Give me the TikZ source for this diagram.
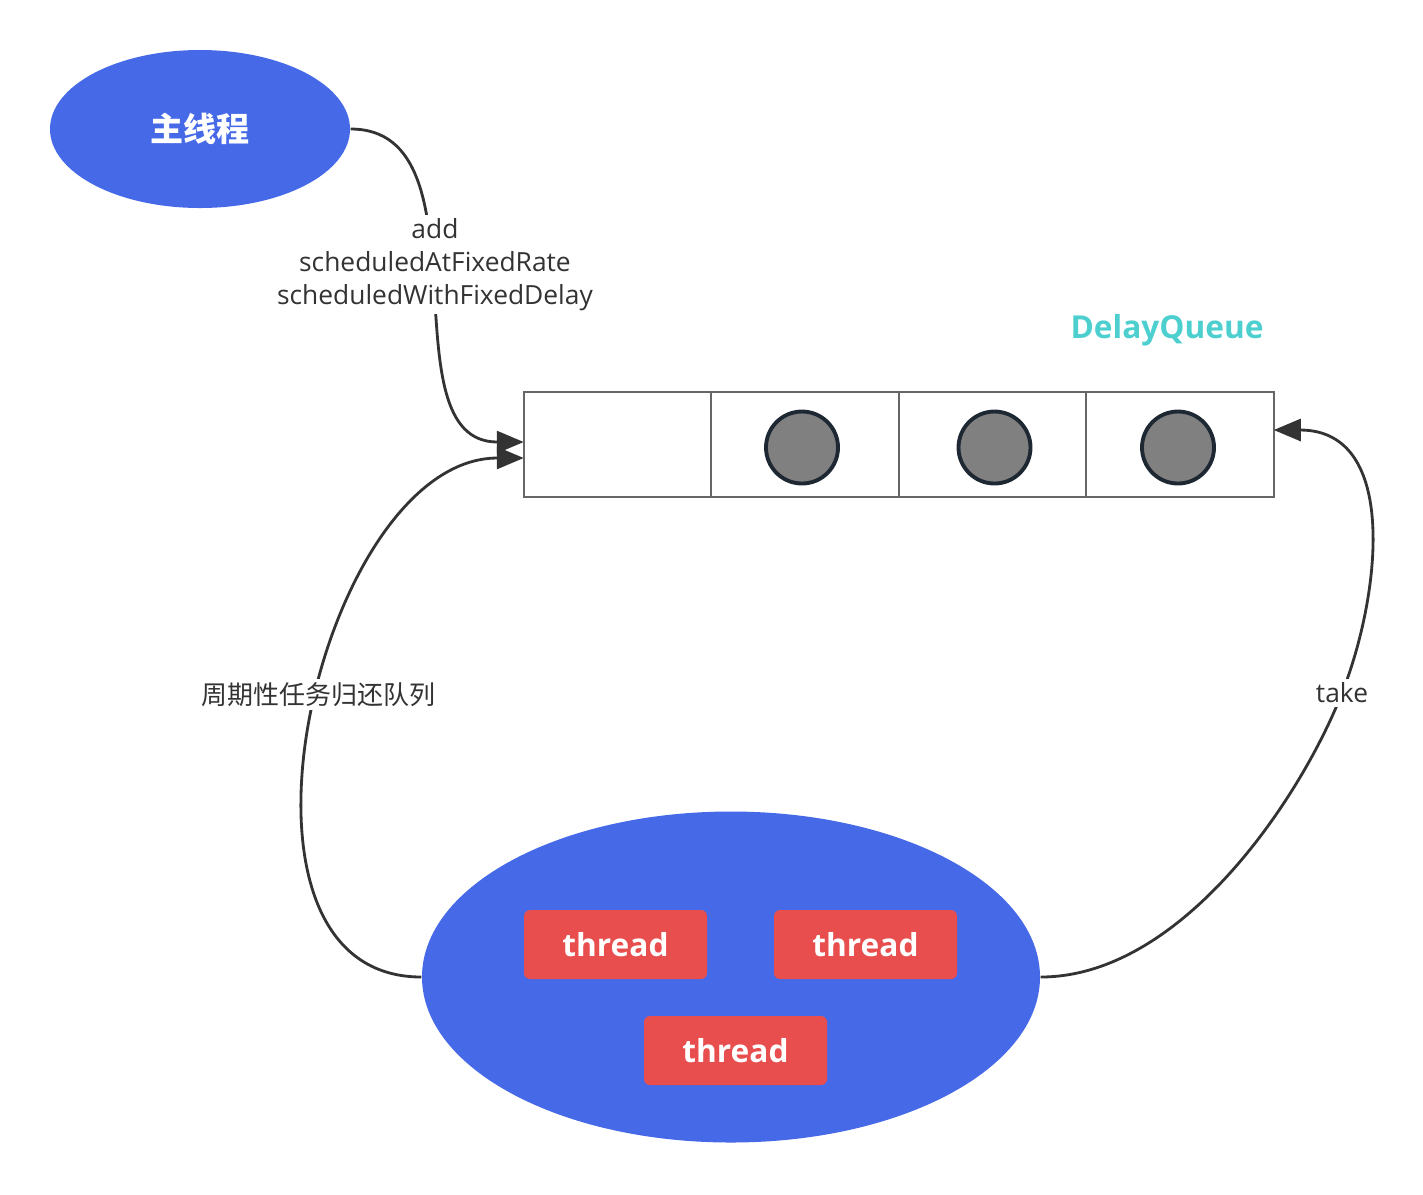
\documentclass[tikz,border=0pt]{standalone}
\usepackage{fontspec}
\setmainfont{Open Sans}
\newfontfamily\cjk{Noto Sans CJK SC}
\usetikzlibrary{arrows.meta,shapes.geometric,positioning}
\definecolor{Royal}{HTML}{4669E8}
\definecolor{Tomato}{HTML}{E84E4E}
\definecolor{Aqua}{HTML}{4ECFCF}
\definecolor{Ink}{HTML}{333333}
\definecolor{Slot}{HTML}{666666}
\definecolor{Ball}{HTML}{808080}
\definecolor{BallRim}{HTML}{1E2833}
\tikzset{oval/.style ={
        ellipse,
        fill=Royal,
        inner sep=0,
        text=white,
    },
    worker/.style ={
        rectangle,
        fill=Tomato,
        rounded corners=0.06cm,
        minimum width=1.83cm,
        minimum height=0.69cm,
        text=white,
        font=\fontsize{9}{11}\selectfont\bfseries,
    },
    slot/.style ={
        rectangle,
        draw=Slot,
        line width=0.6pt,
        minimum width=1.875cm,
        minimum height=1.05cm,
        inner sep=0,
        outer sep=0,
    },
    ball/.style ={
        circle,
        fill=Ball,
        draw=BallRim,
        line width=1.1pt,
        minimum size=0.72cm,
        inner sep=0,
    },
    flow/.style ={
        draw=Ink,
        line width=0.8pt,
        -{Triangle[length=0.27cm,width=0.22cm]},
    },
    lbl/.style ={
        fill=white,
        text=Ink,
        font=\fontsize{7.5}{9.4}\selectfont,
        align=center,
        inner sep=1pt,
    }}
\begin{document}
\begin{tikzpicture}
    \useasboundingbox (0,0) rectangle (14.23,-11.94);
    % main thread
    \node (main)[oval,minimum width=3cm,minimum height=1.58cm,font=\cjk\fontsize{9.4}{11}\selectfont\bfseries] at (2,-1.29) {主线程};

    % the queue
    \node (c1)[slot] at (6.175,-4.445) {};
    \node (c2)[slot,right=0pt of c1] {};
    \node (c3)[slot,right=0pt of c2] {};
    \node (c4)[slot,right=0pt of c3] {};
    \node (b2)[ball] at ([xshift=-0.03cm,yshift=-0.03cm]c2.center) {};
    \node (b3)[ball] at ([xshift=0.02cm,yshift=-0.03cm]c3.center) {};
    \node (b4)[ball] at ([xshift=-0.02cm,yshift=-0.03cm]c4.center) {};
    \node (title)[text=Aqua,font=\fontsize{9}{11}\selectfont\bfseries] at (11.67,-3.3) {DelayQueue};

    % thread pool
    \node (pool)[oval,minimum width=6.18cm,minimum height=3.31cm] at (7.31,-9.77) {};
    \node (t1)[worker] at (6.155,-9.445) {thread};
    \node (t2)[worker] at (8.655,-9.445) {thread};
    \node (t3)[worker] at (7.355,-10.505) {thread};

    \coordinate (takept) at (13.42,-6.93);

    \draw[flow] (main.east) .. controls +(1.4,0) and +(-1.4,0) .. ([yshift=0.025cm]c1.west)
        node[lbl,pos=0.455] {add\\scheduledAtFixedRate\\scheduledWithFixedDelay};
    \draw[flow] (pool.west) .. controls +(-2.22,0) and +(-2.04,0) .. ([yshift=-0.135cm]c1.west)
        node[lbl,pos=0.53,font=\cjk\fontsize{7.4}{9}\selectfont] {周期性任务归还队列};
    \draw[flow] (pool.east) .. controls +(1.4,0) and (13.0,-8.0) .. (takept) node[lbl] {take}
        .. controls (13.8,-5.97) and (14.0,-4.3) .. ([yshift=0.145cm]c4.east);
\end{tikzpicture}
\end{document}
